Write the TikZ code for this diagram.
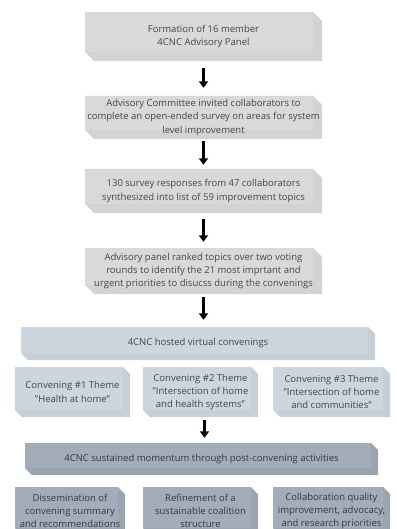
\documentclass[tikz,border=0pt]{standalone}
\usepackage{fontspec}
\setmainfont{Open Sans}
\usetikzlibrary{arrows.meta,calc}
\definecolor{grayfront}{HTML}{D9D9D9}
\definecolor{grayside}{HTML}{D3D3D3}
\definecolor{bluefront}{HTML}{CDD5DF}
\definecolor{blueside}{HTML}{C6CED8}
\definecolor{darkfront}{HTML}{A2ADB9}
\definecolor{darkside}{HTML}{9AA5B1}
\definecolor{txt}{HTML}{464646}
\tikzset{
  cubefront/.store in=\cubefront,
  cubeside/.store in=\cubeside,
  cubed/.store in=\cubed,
  cubefront=grayfront, cubeside=grayside, cubed=8pt,
  cbox/.style={inner sep=0pt, align=center, text=txt,
    font=\fontsize{9.5}{13.3}\selectfont,
    path picture={
      \path (path picture bounding box.south west) coordinate (pp-sw)
            (path picture bounding box.north east) coordinate (pp-ne);
      \fill[\cubeside] let \p1=(pp-sw), \p2=(pp-ne) in
        (\x1,\y2) -- (\x2-\cubed,\y2) -- (\x2,\y2-\cubed) -- (\x2,\y1)
        -- (\x1+\cubed,\y1) -- (\x1,\y1+\cubed) -- cycle;
      \fill[\cubefront] let \p1=(pp-sw), \p2=(pp-ne) in
        (\x1,\y1+\cubed) rectangle (\x2-\cubed,\y2);
    }},
  graybox/.style={cbox, cubefront=grayfront, cubeside=grayside, cubed=9pt},
  bluebox/.style={cbox, cubefront=bluefront, cubeside=blueside, cubed=7pt},
  darkbox/.style={cbox, cubefront=darkfront, cubeside=darkside, cubed=7pt, text=black!78},
  flow/.style={line width=2.4pt, -{Triangle[width=9pt,length=6.5pt]}}
}
\begin{document}
\begin{tikzpicture}[x=1pt,y=-1pt]
\useasboundingbox (0,0) rectangle (396,529);
\clip (0,0) rectangle (396,529);

\node[graybox, minimum width=237pt, minimum height=49pt] (b1) at (203.5,36.5)
  {Formation of 16 member\\4CNC Advisory Panel};
\node[graybox, minimum width=237pt, minimum height=43pt] (b2) at (203.5,117.5)
  {Advisory Committee invited collaborators to\\complete an open-ended survey on areas for system\\level improvement};
\node[graybox, minimum width=237pt, minimum height=44pt] (b3) at (203.5,191)
  {130 survey responses from 47 collaborators\\synthesized into list of 59 improvement topics};
\node[graybox, minimum width=237pt, minimum height=46pt] (b4) at (203.5,271)
  {Advisory panel ranked topics over two voting\\rounds to identify the 21 most imprtant and\\urgent priorities to disucss during the convenings};

\node[bluebox, minimum width=354pt, minimum height=33pt] (b5) at (198,343.5)
  {4CNC hosted virtual convenings};
\node[bluebox, minimum width=115pt, minimum height=50pt] (t1) at (72.5,392)
  {Convening \#1 Theme\\"Health at home"};
\node[bluebox, minimum width=115pt, minimum height=50pt] (t2) at (200.5,392)
  {Convening \#2 Theme\\"Intersection of home\\and health systems"};
\node[bluebox, minimum width=117pt, minimum height=50pt] (t3) at (331.5,392)
  {Convening \#3 Theme\\"Intersection of home\\and communities"};

\node[darkbox, minimum width=353pt, minimum height=32pt] (b6) at (201.5,459)
  {4CNC sustained momentum through post-convening activities};
\node[darkbox, minimum width=110pt, minimum height=48pt] (p1) at (70,511)
  {Dissemination of\\convening summary\\and recommendations};
\node[darkbox, minimum width=115pt, minimum height=48pt] (p2) at (200.5,511)
  {Refinement of a\\sustainable coalition\\structure};
\node[darkbox, minimum width=117pt, minimum height=48pt] (p3) at (331.5,511)
  {Collaboration quality\\improvement, advocacy,\\and research priorities};

\draw[flow, shorten <=7pt, shorten >=8pt] (b1.south) -- (b2.north);
\draw[flow, shorten <=2pt, shorten >=4pt] (b2.south) -- (b3.north);
\draw[flow, shorten <=6pt, shorten >=6pt] (b3.south) -- (b4.north);
\draw[flow, shorten <=3pt, shorten >=7pt] (b4.south) -- (b4.south |- b5.north);
\draw[flow, shorten <=3pt, shorten >=5pt] ([xshift=4pt]t2.south) -- ([xshift=4pt]t2.south |- b6.north);
\end{tikzpicture}
\end{document}
